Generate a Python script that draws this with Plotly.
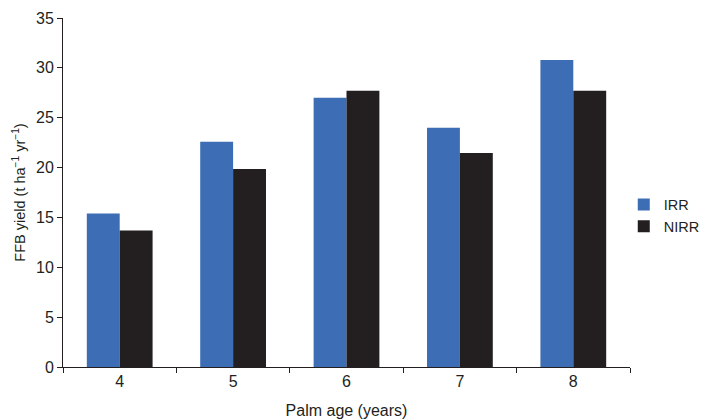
import plotly.graph_objects as go

ages = ["4", "5", "6", "7", "8"]
irr = [15.4, 22.6, 27.0, 24.0, 30.8]
nirr = [13.7, 19.85, 27.7, 21.45, 27.7]
series_names = ["IRR", "NIRR"]

fig = go.Figure()
fig.add_trace(go.Bar(x=ages, y=irr, name=series_names[0], marker=dict(color="#3D6DB5", line=dict(width=0))))
fig.add_trace(go.Bar(x=ages, y=nirr, name=series_names[1], marker=dict(color="#231F20", line=dict(width=0))))

font = "Liberation Sans, Arial, sans-serif"
fig.update_layout(
    width=705, height=411,
    margin=dict(l=55, r=83, t=10, b=52, autoexpand=False),
    plot_bgcolor="white", paper_bgcolor="white",
    barmode="group", bargap=0.42, bargroupgap=0,
    font=dict(family=font, size=16, color="#231F20"),
    legend=dict(x=0.989, y=0.434, xanchor="left", yanchor="middle",
                font=dict(size=14.5), itemwidth=30, tracegroupgap=0, borderwidth=0,
                bgcolor="rgba(0,0,0,0)"),
    showlegend=True,
)
fig.update_xaxes(
    type="category", showline=True, linecolor="#231F20", linewidth=1,
    ticks="outside", tickson="boundaries", ticklen=5, tickcolor="#231F20",
    tickfont=dict(size=16), showgrid=False, automargin=False,
    title=dict(text="Palm age (years)", font=dict(size=16), standoff=19),
)
fig.update_yaxes(
    range=[0, 35], dtick=5, showline=True, linecolor="#231F20", linewidth=1,
    ticks="outside", ticklen=5, tickcolor="#231F20", tickfont=dict(size=16),
    showgrid=False, zeroline=False, automargin=False,
    title=dict(text="FFB yield (t ha<sup>\u22121</sup> yr<sup>\u22121</sup>)", font=dict(size=14.5), standoff=6),
)
fig.write_html("out.html")
